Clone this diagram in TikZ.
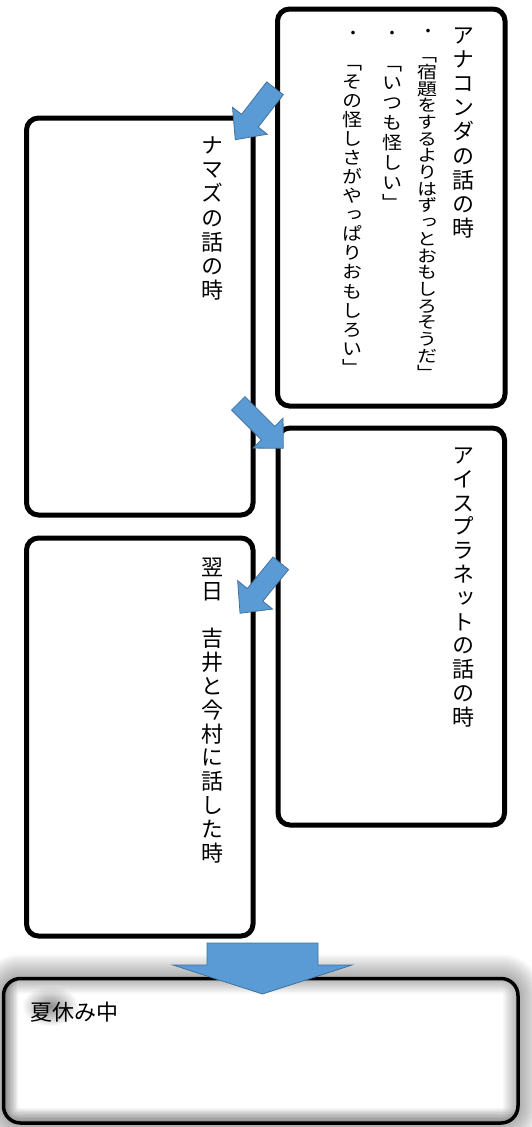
\documentclass[tikz,border=0pt]{standalone}
\usepackage{fontspec}
\usetikzlibrary{fadings}
\tikzfading[name=softblob, inner color=transparent!0, outer color=transparent!100]
\newfontfamily\jpv[RawFeature=+vert]{Noto Sans CJK JP}
\newfontfamily\jph{Noto Sans CJK JP}
\definecolor{arrowfill}{HTML}{5B9BD5}
\definecolor{arrowline}{HTML}{41719C}
\newcommand\vtcol[2]{\vbox{\baselineskip=#1\lineskiplimit=-\maxdimen\lineskip=0pt\relax\vtloop#2\relax}}
\def\vtloop#1{\ifx\relax#1\else\hbox to 1em{\hss\vrule width 0pt height .88em depth .12em\relax#1\hss}\expandafter\vtloop\fi}
\newcommand\myblockarrow[7]{%
  \begin{scope}[shift={(#1,#2)}, rotate=#3]
    \filldraw[barrow] (0,{-#5/2}) -- ({#4-#7},{-#5/2}) -- ({#4-#7},{-#6/2}) -- (#4,0)
      -- ({#4-#7},{#6/2}) -- ({#4-#7},{#5/2}) -- (0,{#5/2}) -- cycle;
  \end{scope}}
\tikzset{
  box/.style={draw, line width=5pt, rounded corners=12pt, fill=white, outer sep=0pt, inner sep=0pt, anchor=north west},
  vcol/.style={inner sep=0pt, anchor=north, font=\jpv\fontsize{22}{24}\selectfont},
  vsub/.style={inner sep=0pt, anchor=north, font=\jpv\fontsize{20}{22}\selectfont},
  dotnode/.style={inner sep=0pt, font=\jph\fontsize{17}{19}\selectfont},
  barrow/.style={fill=arrowfill, draw=arrowline, line width=0.8pt},
}
\begin{document}
\begin{tikzpicture}[x=1pt, y=-1pt]
\useasboundingbox (0,0) rectangle (531,1127);
% boxes
\node[box, minimum width=227.5pt, minimum height=397pt] (boxA) at (277.5,9) {};
\node[box, minimum width=226.5pt, minimum height=397pt] (boxB) at (26.5,118) {};
\node[box, minimum width=226.5pt, minimum height=397pt] (boxC) at (278,428) {};
\node[box, minimum width=226.5pt, minimum height=398pt] (boxD) at (26.5,538) {};
% box E with glow
\foreach \i in {1,...,12}
  \draw[black, opacity=.03, line width={4*\i pt}, rounded corners=17pt] (3.5,978.5) rectangle (518,1123);
\node[fill=white, rounded corners=17pt, minimum width=514.5pt, minimum height=144.5pt, outer sep=0pt, inner sep=0pt, anchor=north west] (boxEfill) at (3.5,978.5) {};
\begin{scope}
  \clip[rounded corners=17pt] (3.5,978.5) rectangle (518,1123);
  \foreach \i in {1,...,10}
    \draw[black, opacity=.03, line width={3*\i pt}, rounded corners=17pt] (3.5,978.5) rectangle (518,1123);
  \foreach \i in {1,...,8}
    \draw[black, opacity=.025, line width={3*\i pt}] (5,980) -- (5,1121) -- (516,1121);
  \fill[black!45, path fading=softblob] (50,1006) ellipse [x radius=28, y radius=20];
\end{scope}
\node[draw, line width=3.5pt, rounded corners=17pt, minimum width=514.5pt, minimum height=144.5pt, outer sep=0pt, inner sep=0pt, anchor=north west] (boxE) at (3.5,978.5) {};
% texts box A
\node[vcol] (tA) at (463,24) {\vtcol{24.1pt}{アナコンダの話の時}};
\node[dotnode] (dA1) at (428,33) {・};
\node[vsub] (tA1) at (427,46.5) {\scalebox{1}[0.85]{\vtcol{19.65pt}{「宿題をするよりはずっとおもしろそうだ」}}};
\node[dotnode] (dA2) at (392,35) {・};
\node[vsub] (tA2) at (392,54) {\scalebox{1}[0.9]{\vtcol{22.1pt}{「いつも怪しい」}}};
\node[dotnode] (dA3) at (353,35) {・};
\node[vsub] (tA3) at (352,53) {\scalebox{1}[0.9]{\vtcol{21.2pt}{「その怪しさがやっぱりおもしろい」}}};
% texts other boxes
\node[vcol] (tB) at (212,134) {\vtcol{24.2pt}{ナマズの話の時}};
\node[vcol] (tC) at (463,444) {\vtcol{23.8pt}{アイスプラネットの話の時}};
\node[vcol] (tD) at (212,556) {\vtcol{23.8pt}{翌日　吉井と今村に話した時}};
\node[inner sep=0pt, anchor=west, font=\jph\fontsize{22}{24}\selectfont] (tE) at (30,1012) {夏休み中};
% arrows
\myblockarrow{275}{88.3}{232.3}{65}{21}{44}{24}
\myblockarrow{238.3}{403.3}{-45}{63.6}{19}{42.4}{21.5}
\myblockarrow{280.8}{563.3}{230.8}{64.5}{20}{45}{23.8}
\myblockarrow{262.5}{943}{-90}{51}{111}{179}{29}
\end{tikzpicture}
\end{document}
